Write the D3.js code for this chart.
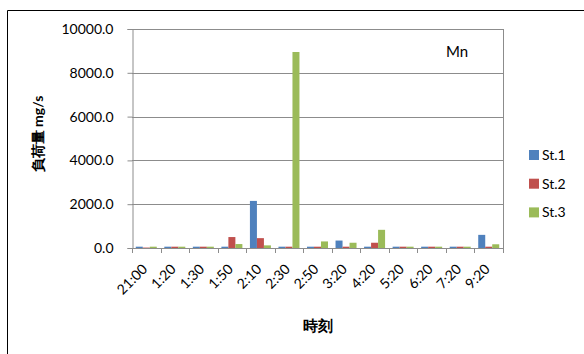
<!DOCTYPE html>
<html>
<head>
<meta charset="utf-8">
<script src="https://cdn.jsdelivr.net/npm/d3@7"></script>
<style>
  html, body { margin: 0; padding: 0; background: #fff; }
  svg { display: block; }
  text { font-family: Lato, "Open Sans", sans-serif; fill: #000; }
</style>
</head>
<body>
<script>
// Sampling times and Mn load (mg/s) at each station
const times = ["21:00", "1:20", "1:30", "1:50", "2:10", "2:30", "2:50", "3:20", "4:20", "5:20", "6:20", "7:20", "9:20"];
const st1 = [60, 60, 60, 60, 2150, 60, 60, 340, 60, 60, 60, 60, 600];
const st2 = [20, 60, 60, 500, 450, 60, 60, 60, 240, 60, 60, 60, 60];
const st3 = [60, 60, 60, 180, 120, 8950, 300, 240, 830, 60, 60, 60, 170];
const seriesNames = ["St.1", "St.2", "St.3"];
const seriesColors = ["#4F81BD", "#C0504D", "#9BBB59"];
const yTicks = [0, 2000, 4000, 6000, 8000, 10000];

const W = 584, H = 354;
const plot = { left: 132, top: 29, right: 503, bottom: 248 };

const svg = d3.select("body").append("svg").attr("width", W).attr("height", H);

// chart frame (only its top and left edges fall inside the window)
svg.append("path")
  .attr("d", `M7.5,${H} V10.5 H${W}`)
  .attr("fill", "none").attr("stroke", "#000").attr("stroke-width", 1);

const x = d3.scaleBand().domain(times).range([plot.left, plot.right]).padding(0);
const y = d3.scaleLinear().domain([0, 10000]).range([plot.bottom, plot.top]);

// gridlines
svg.append("g").selectAll("line").data(yTicks.slice(1)).join("line")
  .attr("x1", plot.left).attr("x2", plot.right)
  .attr("y1", d => Math.round(y(d)) + 0.5).attr("y2", d => Math.round(y(d)) + 0.5)
  .attr("stroke", "#8c8c8c").attr("stroke-width", 1);

// right edge of plot area
svg.append("line")
  .attr("x1", plot.right + 0.5).attr("x2", plot.right + 0.5)
  .attr("y1", plot.top).attr("y2", plot.bottom)
  .attr("stroke", "#8c8c8c");

// bars
const data = [st1, st2, st3];
const barW = 7;
const groupOffset = (x.bandwidth() - barW * 3) / 2;
data.forEach((vals, si) => {
  svg.append("g").selectAll("rect").data(vals).join("rect")
    .attr("x", (d, i) => x(times[i]) + groupOffset + si * barW)
    .attr("y", d => y(d))
    .attr("width", barW)
    .attr("height", d => plot.bottom - y(d))
    .attr("fill", seriesColors[si]);
});

// y axis
const yAxis = svg.append("g")
  .attr("transform", `translate(${plot.left + 0.5},0)`)
  .call(d3.axisLeft(y).tickValues(yTicks).tickFormat(d3.format(".1f")).tickSize(5).tickPadding(14));
yAxis.select(".domain").attr("stroke", "#8c8c8c");
yAxis.selectAll(".tick line").attr("stroke", "#8c8c8c");
yAxis.selectAll(".tick text").attr("font-size", 14).attr("font-family", "Lato, sans-serif").attr("fill", "#000");

// x axis: ticks at category boundaries
const xa = svg.append("g");
xa.append("line")
  .attr("x1", plot.left).attr("x2", plot.right + 1)
  .attr("y1", plot.bottom + 0.5).attr("y2", plot.bottom + 0.5)
  .attr("stroke", "#8c8c8c");
xa.selectAll("line.tk").data(times.concat(["end"])).join("line")
  .attr("class", "tk")
  .attr("x1", (d, i) => Math.round(plot.left + i * x.step()) + 0.5)
  .attr("x2", (d, i) => Math.round(plot.left + i * x.step()) + 0.5)
  .attr("y1", plot.bottom).attr("y2", plot.bottom + 5)
  .attr("stroke", "#8c8c8c");
xa.selectAll("text").data(times).join("text")
  .attr("transform", d => `translate(${x(d) + x.bandwidth() / 2 + 2},${plot.bottom + 22}) rotate(-45)`)
  .attr("text-anchor", "end")
  .attr("font-size", 14)
  .text(d => d);

// axis titles
svg.append("text")
  .attr("transform", `translate(43,134) rotate(-90)`)
  .attr("text-anchor", "middle")
  .attr("font-weight", "bold")
  .attr("font-size", 14)
  .attr("font-family", "'Noto Sans CJK JP', sans-serif")
  .text("負荷量 mg/s");

svg.append("text")
  .attr("x", (plot.left + plot.right) / 2)
  .attr("y", 331)
  .attr("text-anchor", "middle")
  .attr("font-weight", "bold")
  .attr("font-size", 15)
  .attr("font-family", "'Noto Sans CJK JP', sans-serif")
  .text("時刻");

// element label
svg.append("text")
  .attr("x", 446).attr("y", 57)
  .attr("font-size", 15)
  .text("Mn");

// legend
const lg = svg.append("g").selectAll("g").data(seriesNames).join("g")
  .attr("transform", (d, i) => `translate(529,${155 + i * 28.7})`);
lg.append("rect").attr("x", 0).attr("y", -5).attr("width", 10).attr("height", 10)
  .attr("fill", (d, i) => seriesColors[i]);
lg.append("text").attr("x", 13).attr("y", 5).attr("font-size", 14).text(d => d);
</script>
</body>
</html>
